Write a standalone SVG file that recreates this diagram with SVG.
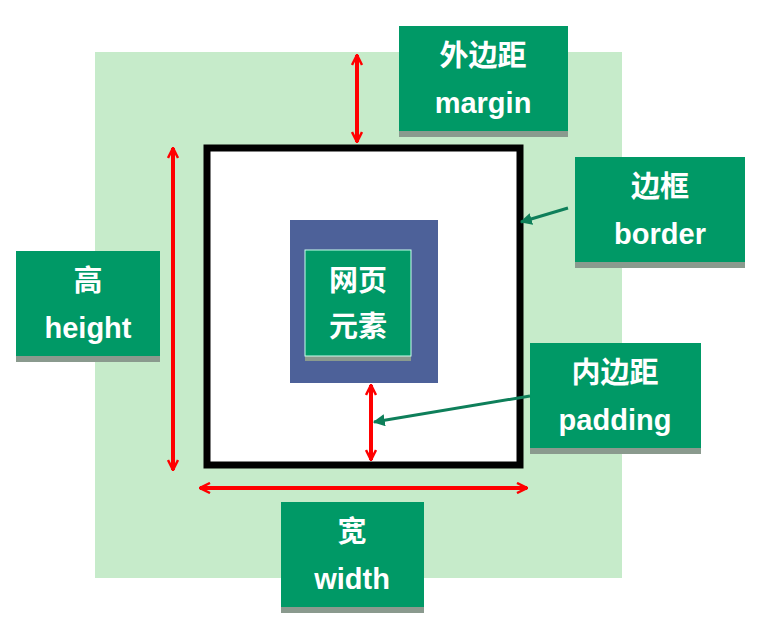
<svg xmlns="http://www.w3.org/2000/svg" width="777" height="619" viewBox="0 0 777 619">
<defs>
<marker id="v" viewBox="0 0 12 12" refX="11" refY="6" markerWidth="12" markerHeight="12" markerUnits="userSpaceOnUse" orient="auto-start-reverse">
<path d="M1,1 L11,6 L1,11" fill="none" stroke="#ff0000" stroke-width="2.5"/>
</marker>
<marker id="g" viewBox="0 0 10 10" refX="9" refY="5" markerWidth="12" markerHeight="12" markerUnits="userSpaceOnUse" orient="auto">
<path d="M0,0 L10,5 L0,10 z" fill="#0e7f5a"/>
</marker>
</defs>
<style>
.box{fill:#009966}
.sh{fill:#8a9a8e}
.t{fill:#fff;font-family:"Liberation Sans","Noto Sans CJK SC",sans-serif;font-weight:bold;font-size:29px;text-anchor:middle}
.r{stroke:#ff0000;stroke-width:4;fill:none}
.gl{stroke:#0e7f5a;stroke-width:3;fill:none}
</style>
<rect width="777" height="619" fill="#fff"/>
<rect x="95" y="52" width="527" height="526" fill="#c6ebca"/>
<rect x="207" y="148" width="313" height="317" fill="#fff" stroke="#000" stroke-width="7"/>
<rect x="290" y="220" width="148" height="163" fill="#4d6199"/>
<g id="element"><rect class="sh" x="305" y="255" width="106" height="106" fill="#34406a"/><rect class="box" x="305" y="250" width="106" height="106" stroke="#cfe" stroke-width="1"/><text class="t" x="358" y="291">网页</text><text class="t" x="358" y="337">元素</text></g>
<g id="margin"><rect class="sh" x="399" y="30" width="169" height="107"/><rect class="box" x="399" y="26" width="169" height="105"/><text class="t" x="483" y="66">外边距</text><text class="t" x="483" y="113">margin</text></g>
<g id="border"><rect class="sh" x="575" y="161" width="170" height="107"/><rect class="box" x="575" y="157" width="170" height="105"/><text class="t" x="660" y="197">边框</text><text class="t" x="660" y="244">border</text></g>
<g id="height"><rect class="sh" x="16" y="255" width="144" height="107"/><rect class="box" x="16" y="251" width="144" height="105"/><text class="t" x="88" y="291">高</text><text class="t" x="88" y="338">height</text></g>
<g id="padding"><rect class="sh" x="530" y="347" width="171" height="107"/><rect class="box" x="530" y="343" width="171" height="105"/><text class="t" x="615" y="383">内边距</text><text class="t" x="615" y="430">padding</text></g>
<g id="width"><rect class="sh" x="281" y="506" width="143" height="107"/><rect class="box" x="281" y="502" width="143" height="105"/><text class="t" x="352" y="542">宽</text><text class="t" x="352" y="589">width</text></g>
<g id="connectors">
<line class="r" x1="357" y1="55" x2="357" y2="142" marker-start="url(#v)" marker-end="url(#v)"/>
<line class="r" x1="173" y1="148" x2="173" y2="470" marker-start="url(#v)" marker-end="url(#v)"/>
<line class="r" x1="200" y1="488" x2="527" y2="488" marker-start="url(#v)" marker-end="url(#v)"/>
<line class="r" x1="371" y1="385" x2="371" y2="460" marker-start="url(#v)" marker-end="url(#v)"/>
<line class="gl" x1="568" y1="208" x2="521" y2="222" marker-end="url(#g)"/>
<line class="gl" x1="530" y1="396" x2="374" y2="422" marker-end="url(#g)"/>
</g>
</svg>
